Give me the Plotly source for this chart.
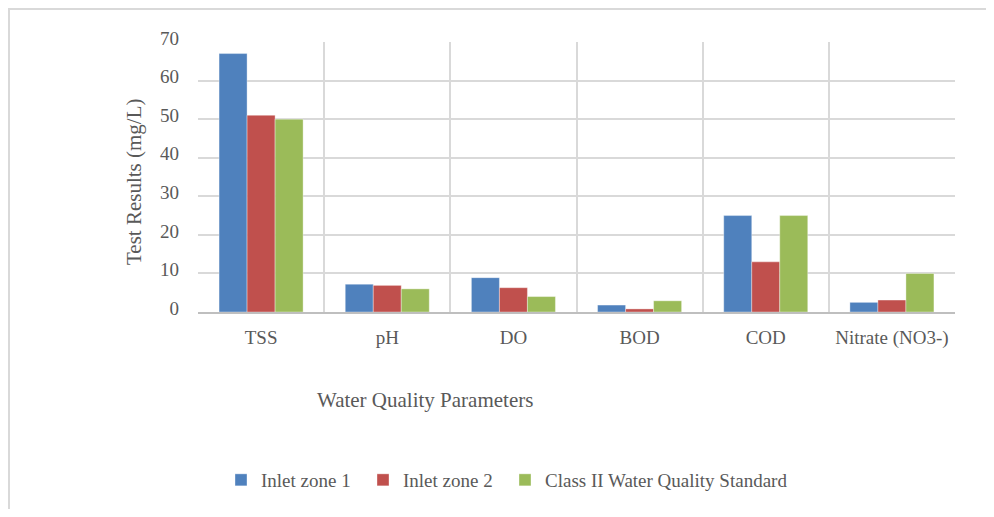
import plotly.graph_objects as go

# Water quality test results (mg/L)
categories = ['TSS', 'pH', 'DO', 'BOD', 'COD', 'Nitrate (NO3-)']
inlet_zone_1 = [67, 7.2, 8.9, 1.8, 25, 2.5]
inlet_zone_2 = [51, 6.9, 6.3, 0.8, 13, 3.1]
class_ii_standard = [50, 6, 4, 2.9, 25, 10]
y_ticks = [0, 10, 20, 30, 40, 50, 60, 70]

FONT = 'Liberation Serif, Times New Roman, serif'
TEXT = '#595959'
GRID = '#d9d9d9'

# page has an 8px body margin, so the figure is a bit smaller and offset
OFF = 8
W, H = 978, 501
# plot area on the page: x 198..955, y 42..312
L, T = 198 - OFF, 42 - OFF
R, B = W - (955 - OFF), H - (312 - OFF)
pw, ph = W - L - R, H - T - B


def px_x(p):
    # page x pixel -> paper coord
    return (p - OFF - L) / pw


def px_y(p):
    # page y pixel -> paper coord
    return (H - B - (p - OFF)) / ph


fig = go.Figure()

series = [
    ('Inlet zone 1', inlet_zone_1, '#4f81bd', 'legend'),
    ('Inlet zone 2', inlet_zone_2, '#c0504d', 'legend2'),
    ('Class II Water Quality Standard', class_ii_standard, '#9bbb59', 'legend3'),
]
for name, vals, color, leg in series:
    fig.add_trace(go.Bar(
        x=categories,
        y=vals,
        name=name,
        legend=leg,
        marker=dict(color=color, line=dict(color='rgba(255,255,255,0.6)', width=0.6)),
    ))


def legend_at(page_x):
    return dict(
        orientation='h',
        x=px_x(page_x), y=px_y(480),
        xanchor='left', yanchor='middle',
        font=dict(family=FONT, size=19, color=TEXT),
        bgcolor='rgba(0,0,0,0)',
    )


fig.update_layout(
    width=W, height=H,
    margin=dict(l=L, r=R, t=T, b=B, autoexpand=False),
    plot_bgcolor='white',
    paper_bgcolor='white',
    font=dict(family=FONT, size=19, color=TEXT),
    barmode='group',
    bargap=0.334,
    bargroupgap=0,
    showlegend=True,
    legend=legend_at(221),
    legend2=legend_at(363),
    legend3=legend_at(505),
    xaxis=dict(
        type='category',
        tickson='boundaries',
        showgrid=True,
        gridcolor=GRID,
        gridwidth=1.5,
        showline=True,
        linecolor='#bfbfbf',
        linewidth=1.5,
        ticks='',
        ticklabelstandoff=7,
        tickfont=dict(family=FONT, size=19, color=TEXT),
    ),
    yaxis=dict(
        range=[0, 70],
        tickvals=y_ticks,
        showgrid=True,
        gridcolor=GRID,
        gridwidth=1.5,
        zeroline=False,
        showline=False,
        ticks='',
        ticklabelstandoff=18,
        ticklabelshift=-4,
        tickfont=dict(family=FONT, size=19, color=TEXT),
    ),
    annotations=[
        dict(text='Test Results (mg/L)', textangle=-90,
             x=px_x(134), y=px_y(182), xref='paper', yref='paper',
             xanchor='center', yanchor='middle', showarrow=False,
             font=dict(family=FONT, size=21, color=TEXT)),
        dict(text='Water Quality Parameters',
             x=px_x(425), y=px_y(400), xref='paper', yref='paper',
             xanchor='center', yanchor='middle', showarrow=False,
             font=dict(family=FONT, size=21, color=TEXT)),
    ],
    shapes=[
        dict(type='rect', xref='paper', yref='paper',
             x0=px_x(9), x1=px_x(1010), y0=px_y(9), y1=px_y(540),
             line=dict(color='#d9d9d9', width=2), layer='below'),
    ],
)

fig.write_html('out.html')
